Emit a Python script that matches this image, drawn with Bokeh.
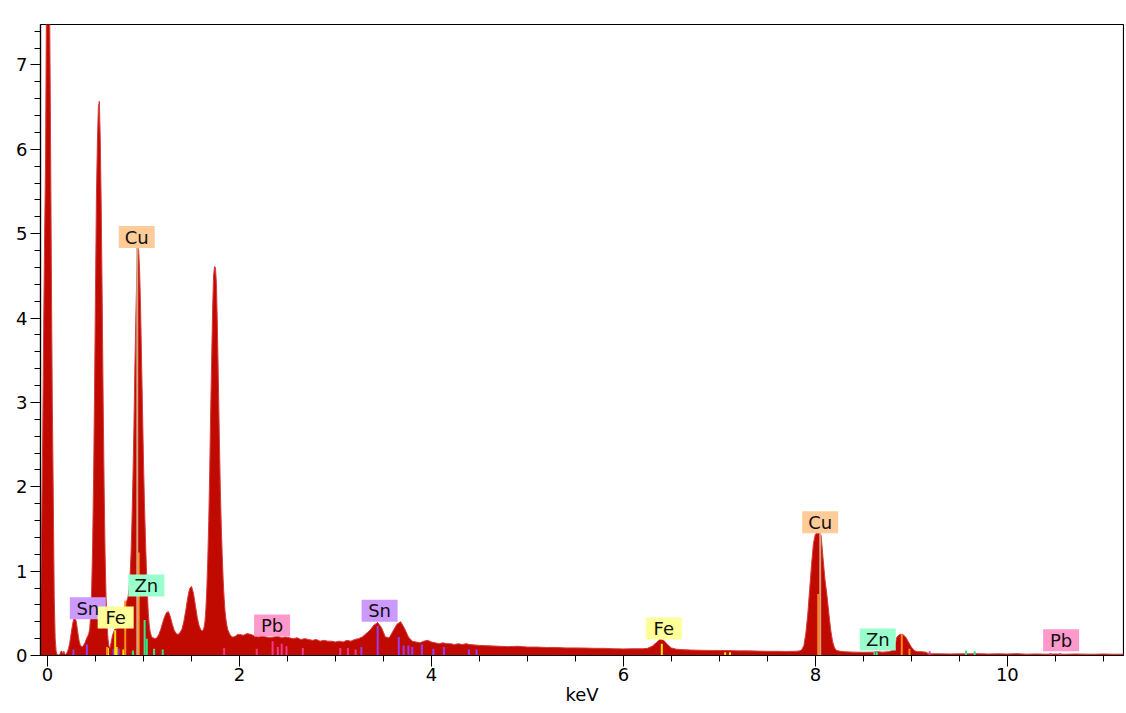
from bokeh.plotting import figure
from bokeh.models import Range1d, SingleIntervalTicker, Label, ColumnDataSource
from bokeh.core.properties import value
from bokeh.embed import file_html
from bokeh.resources import INLINE

FONT = "DejaVu Sans"

# ---------------- spectrum (keV, cps/eV) ----------------
e_noise = [-0.07, -0.06, -0.05, -0.04, -0.03, -0.02, -0.01, 0.00, 0.01, 0.02, 0.03, 0.04,
           0.05, 0.06, 0.07, 0.08, 0.09, 0.10]
c_noise = [0.80, 1.60, 2.60, 3.90, 5.00, 5.90, 8.00, 9.00, 9.00, 8.00, 6.45, 4.60,
           3.00, 1.90, 0.70, 0.20, 0.05, 0.01]

e_low = [0.11, 0.12, 0.13, 0.14, 0.15, 0.16, 0.17, 0.18, 0.19, 0.20, 0.21, 0.22, 0.23, 0.24,
         0.25, 0.26, 0.27, 0.28, 0.29, 0.30, 0.31, 0.32, 0.33, 0.34, 0.35, 0.36, 0.37, 0.38, 0.39,
         0.40, 0.41, 0.42]
c_low = [0.01, 0.00, 0.02, 0.05, 0.05, 0.02, 0.05, 0.02, 0.01, 0.03, 0.05, 0.09, 0.14, 0.21,
         0.29, 0.36, 0.42, 0.44, 0.44, 0.40, 0.32, 0.24, 0.17, 0.13, 0.11, 0.10, 0.11, 0.13, 0.15,
         0.18, 0.21, 0.23]

e_oxy = [0.43, 0.44, 0.45, 0.46, 0.47, 0.48, 0.49, 0.50, 0.51, 0.52, 0.53, 0.54, 0.55, 0.56,
         0.57, 0.58, 0.59, 0.60, 0.61, 0.62, 0.63, 0.64, 0.65]
c_oxy = [0.26, 0.32, 0.48, 0.79, 1.30, 2.09, 3.13, 4.33, 5.47, 6.10, 6.50, 6.57, 6.10, 5.30,
         4.20, 3.00, 2.00, 1.20, 0.70, 0.38, 0.20, 0.11, 0.09]

e_fel = [0.66, 0.67, 0.68, 0.69, 0.70, 0.71, 0.72, 0.73, 0.74, 0.75, 0.76, 0.77, 0.78,
         0.79, 0.80, 0.81, 0.82, 0.83]
c_fel = [0.14, 0.20, 0.25, 0.28, 0.31, 0.32, 0.31, 0.34, 0.36, 0.35, 0.38, 0.40, 0.44,
         0.50, 0.56, 0.60, 0.63, 0.66]

e_cul = [0.84, 0.85, 0.86, 0.87, 0.88, 0.89, 0.90, 0.91, 0.92, 0.93, 0.94, 0.95, 0.96, 0.97,
         0.98, 0.99, 1.00, 1.01, 1.02, 1.03, 1.04, 1.05, 1.06, 1.07, 1.08, 1.09, 1.10]
c_cul = [0.70, 0.80, 0.95, 1.20, 1.60, 2.10, 2.70, 3.40, 4.00, 4.50, 4.83, 4.80, 4.55, 4.10,
         3.50, 2.90, 2.30, 1.80, 1.40, 1.05, 0.75, 0.50, 0.36, 0.28, 0.24, 0.21, 0.21]

e_namg = [1.12, 1.14, 1.16, 1.18, 1.20, 1.22, 1.24, 1.26, 1.28, 1.30, 1.32, 1.34, 1.36, 1.38,
          1.40, 1.42, 1.44, 1.46, 1.48, 1.50, 1.52, 1.54, 1.56, 1.58, 1.60]
c_namg = [0.20, 0.21, 0.25, 0.31, 0.39, 0.46, 0.51, 0.52, 0.46, 0.37, 0.30, 0.26, 0.25, 0.27,
          0.31, 0.40, 0.53, 0.68, 0.79, 0.82, 0.74, 0.60, 0.45, 0.35, 0.30]

e_si = [1.61, 1.62, 1.63, 1.64, 1.65, 1.66, 1.67, 1.68, 1.69, 1.70, 1.71, 1.72, 1.73, 1.74,
        1.75, 1.76, 1.77, 1.78, 1.79, 1.80, 1.81, 1.82, 1.83, 1.84, 1.85, 1.86, 1.87, 1.88,
        1.90, 1.92, 1.94, 1.96, 1.98]
c_si = [0.29, 0.30, 0.33, 0.40, 0.55, 0.80, 1.15, 1.60, 2.20, 2.90, 3.50, 4.10, 4.50, 4.61,
        4.60, 4.40, 3.90, 3.25, 2.60, 2.00, 1.55, 1.20, 0.90, 0.68, 0.52, 0.42, 0.35, 0.30,
        0.25, 0.22, 0.22, 0.23, 0.25]

e_mid = [2.00, 2.04, 2.08, 2.12, 2.16, 2.20, 2.24, 2.28, 2.32, 2.36, 2.40, 2.44, 2.48, 2.52,
         2.56, 2.60, 2.64, 2.68, 2.72, 2.76, 2.80, 2.84, 2.88, 2.92, 2.96, 3.00, 3.04, 3.08,
         3.12, 3.16, 3.20, 3.24, 3.28, 3.32, 3.36, 3.40, 3.44, 3.48, 3.52, 3.56, 3.60, 3.64,
         3.68, 3.72, 3.76, 3.80, 3.84, 3.88, 3.92, 3.96, 4.00, 4.04, 4.08, 4.12, 4.16, 4.20,
         4.24, 4.28, 4.32, 4.36, 4.40]
c_mid = [0.25, 0.24, 0.26, 0.25, 0.23, 0.22, 0.24, 0.22, 0.21, 0.22, 0.23, 0.21, 0.22, 0.21,
         0.20, 0.21, 0.19, 0.20, 0.19, 0.18, 0.19, 0.17, 0.18, 0.17, 0.17, 0.16, 0.17, 0.16,
         0.18, 0.17, 0.19, 0.20, 0.22, 0.26, 0.30, 0.36, 0.39, 0.33, 0.22, 0.21, 0.29, 0.37,
         0.40, 0.32, 0.22, 0.17, 0.16, 0.15, 0.17, 0.18, 0.16, 0.15, 0.14, 0.15, 0.14, 0.14,
         0.13, 0.14, 0.13, 0.14, 0.13]

e_bg = [4.50, 4.60, 4.70, 4.80, 4.90, 5.00, 5.10, 5.20, 5.30, 5.40, 5.50, 5.60, 5.70, 5.80,
        5.90, 6.00, 6.10, 6.20, 6.25, 6.30, 6.34, 6.38, 6.42, 6.46, 6.50, 6.55, 6.60, 6.70,
        6.80, 6.90, 7.00, 7.10, 7.20, 7.30, 7.40, 7.50, 7.60, 7.70, 7.80]
c_bg = [0.120, 0.115, 0.110, 0.105, 0.110, 0.100, 0.100, 0.095, 0.095, 0.090, 0.090, 0.088,
        0.085, 0.085, 0.080, 0.078, 0.080, 0.080, 0.085, 0.110, 0.150, 0.190, 0.180, 0.130,
        0.090, 0.075, 0.070, 0.065, 0.062, 0.060, 0.060, 0.058, 0.055, 0.055, 0.052, 0.050,
        0.050, 0.048, 0.050]

e_cuk = [7.84, 7.86, 7.88, 7.90, 7.92, 7.94, 7.96, 7.98, 8.00, 8.02, 8.04, 8.06, 8.08, 8.10,
         8.12, 8.14, 8.16, 8.18, 8.20, 8.22, 8.26, 8.30]
c_cuk = [0.055, 0.07, 0.12, 0.26, 0.48, 0.78, 1.08, 1.33, 1.44, 1.45, 1.45, 1.42, 1.15, 0.90,
         0.72, 0.50, 0.30, 0.16, 0.09, 0.06, 0.05, 0.045]

e_kb = [8.40, 8.50, 8.60, 8.65, 8.70, 8.76, 8.80, 8.83, 8.85, 8.88, 8.91, 8.94, 8.97, 9.00,
        9.03, 9.06, 9.10, 9.15, 9.18]
c_kb = [0.040, 0.038, 0.040, 0.045, 0.040, 0.045, 0.060, 0.130, 0.220, 0.250, 0.250, 0.220,
        0.160, 0.100, 0.060, 0.045, 0.045, 0.040, 0.020]

e_tail = [9.3, 9.4, 9.5, 9.6, 9.7, 9.8, 9.9, 10.0, 10.1, 10.2, 10.3, 10.4, 10.5, 10.6, 10.7,
          10.8, 10.9, 11.0, 11.1, 11.2, 11.25]
c_tail = [0.020, 0.018, 0.020, 0.020, 0.022, 0.018, 0.020, 0.018, 0.022, 0.016, 0.018, 0.016,
          0.018, 0.015, 0.018, 0.016, 0.015, 0.018, 0.015, 0.016, 0.015]

energy = (e_noise + e_low + e_oxy + e_fel + e_cul + e_namg + e_si + e_mid + e_bg + e_cuk
          + e_kb + e_tail)
cps = (c_noise + c_low + c_oxy + c_fel + c_cul + c_namg + c_si + c_mid + c_bg + c_cuk
       + c_kb + c_tail)

# ---------------- element line markers ----------------
sn_kev = [0.27, 0.41, 0.69, 0.74, 3.27, 3.44, 3.66, 3.71, 3.76, 3.80, 3.90, 4.02, 4.13, 4.39, 4.47]
sn_h = [0.07, 0.13, 0.08, 0.08, 0.10, 0.35, 0.22, 0.12, 0.12, 0.10, 0.13, 0.08, 0.10, 0.07, 0.07]
fe_kev = [0.63, 0.705, 0.72, 0.79, 6.40, 7.06, 7.11]
fe_h = [0.09, 0.30, 0.10, 0.07, 0.14, 0.04, 0.04]
zn_kev = [0.89, 1.012, 1.034, 1.11, 1.20, 8.615, 8.64, 9.57, 9.66]
zn_h = [0.06, 0.42, 0.20, 0.08, 0.07, 0.04, 0.04, 0.06, 0.05]
cu_kev = [0.62, 0.81, 0.95, 8.03, 8.90, 8.98]
cu_h = [0.10, 0.65, 1.22, 0.73, 0.25, 0.08]
cu_main_kev = [0.935, 8.05]
cu_main_h = [4.83, 1.45]
pb_kev = [1.84, 2.18, 2.345, 2.40, 2.44, 2.49, 2.66, 3.05, 3.13, 3.21, 9.19, 10.45, 10.55]
pb_h = [0.09, 0.08, 0.17, 0.10, 0.14, 0.11, 0.09, 0.09, 0.09, 0.07, 0.05, 0.03, 0.03]

# ---------------- element tags ----------------
tag_text = ["Sn", "Fe", "Zn", "Cu", "Pb", "Sn", "Fe", "Cu", "Zn", "Pb"]
tag_kev = [0.42, 0.71, 1.03, 0.93, 2.34, 3.46, 6.42, 8.05, 8.65, 10.56]
tag_y = [0.56, 0.45, 0.83, 4.96, 0.355, 0.53, 0.32, 1.58, 0.19, 0.18]

box_colors = {"Sn": "#cc99ff", "Fe": "#ffff99", "Zn": "#99ffcc", "Cu": "#ffcc99", "Pb": "#ff99cc"}
line_colors = {"Sn": "#9a3cf0", "Fe": "#f2e600", "Zn": "#2ee88a", "Cu": "#ff8c1a", "Pb": "#f0388c"}

p = figure(width=1124, height=710, x_range=Range1d(-0.073, 11.21), y_range=Range1d(0, 7.48),
           output_backend="svg", toolbar_location=None,
           min_border_left=40, min_border_right=1, min_border_top=24, min_border_bottom=55)
p.background_fill_color = "white"
p.border_fill_color = "white"
p.outline_line_color = "black"
p.outline_line_width = 1.2
p.xgrid.visible = False
p.ygrid.visible = False

p.varea(x=energy, y1=[0] * len(energy), y2=cps, fill_color="#c00a00")
p.line(x=energy, y=cps, line_color="#d43c3c", line_width=1)

for name, ks, hs in [("Sn", sn_kev, sn_h), ("Fe", fe_kev, fe_h), ("Zn", zn_kev, zn_h),
                     ("Cu", cu_kev, cu_h), ("Pb", pb_kev, pb_h)]:
    p.segment(x0=ks, y0=[0] * len(ks), x1=ks, y1=hs, line_color=line_colors[name], line_width=2)
p.segment(x0=cu_main_kev, y0=[0, 0], x1=cu_main_kev, y1=cu_main_h, line_color="#d6a27e", line_width=2)

src = ColumnDataSource(dict(x=tag_kev, y=tag_y, text=tag_text,
                            fill=[box_colors[t] for t in tag_text]))
p.rect(x="x", y="y", width=36, height=22, width_units="screen", height_units="screen",
       fill_color="fill", line_color=None, source=src)
p.text(x="x", y="y", text="text", source=src, text_align="center", text_baseline="middle",
       text_font=value(FONT), text_font_size="18px", text_color="#111111")

# axes
p.xaxis.ticker = SingleIntervalTicker(interval=2, num_minor_ticks=4)
p.yaxis.ticker = SingleIntervalTicker(interval=1, num_minor_ticks=5)
for ax in (p.xaxis[0], p.yaxis[0]):
    ax.axis_line_color = "black"
    ax.axis_line_width = 1.2
    ax.major_tick_line_color = "black"
    ax.minor_tick_line_color = "black"
    ax.major_tick_in = 0
    ax.minor_tick_in = 0
    ax.minor_tick_out = 6
    ax.major_label_text_font = FONT
    ax.major_label_text_font_size = "18px"
    ax.major_label_text_color = "black"
p.xaxis.major_tick_out = 11
p.yaxis.major_tick_out = 10
p.xaxis.major_label_standoff = 1
p.yaxis.major_label_standoff = 3
p.xaxis.axis_label = "keV"
p.xaxis.axis_label_text_font = FONT
p.xaxis.axis_label_text_font_size = "18px"
p.xaxis.axis_label_text_font_style = "normal"
p.xaxis.axis_label_text_color = "black"
p.xaxis.axis_label_standoff = 0

p.add_layout(Label(x=-0.073, y=7.48, x_offset=7, y_offset=1, text="cps/eV",
                   text_baseline="bottom", text_font=FONT, text_font_size="18px",
                   text_color="black"))

open("out.html", "w").write(file_html(p, INLINE))
